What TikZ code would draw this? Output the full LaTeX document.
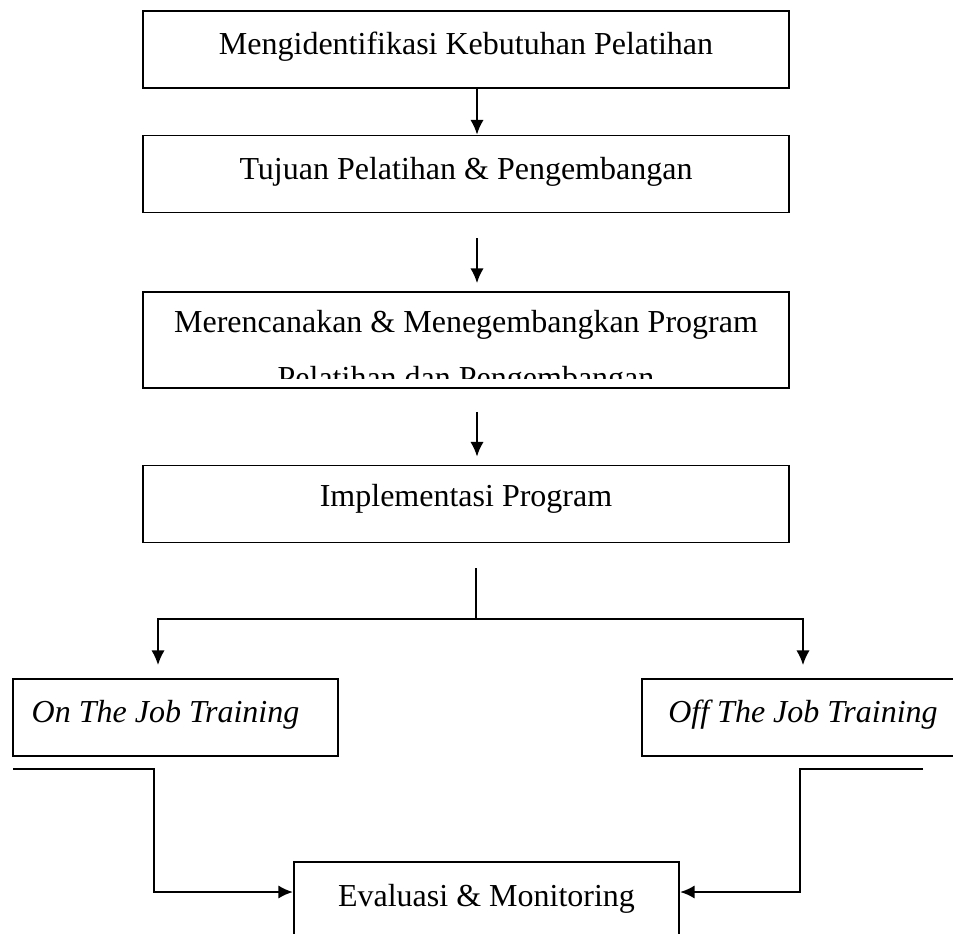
\documentclass[tikz,border=0pt]{standalone}
\usepackage{fontspec}
\setmainfont{Liberation Serif}
\usetikzlibrary{arrows.meta}
\newcommand\boxfont{\fontsize{24}{28}\selectfont}
\tikzstyle{mybox} = [rectangle, draw, line width=1.4pt, minimum height=57.75pt, text height=20pt, text depth=12pt, inner xsep=0pt, font=\boxfont]
\tikzstyle{wide} = [mybox, minimum width=484.5pt]
\tikzstyle{slanted} = [font=\boxfont\itshape]
\tikzstyle{link} = [line width=1.3pt]
\tikzstyle{heavy} = [line width=2pt]
\tikzset{>={Latex[length=11pt,width=10pt]}}
\begin{document}
\begin{tikzpicture}[x=0.75pt, y=-0.75pt]
\clip (0,0) rectangle (953,934);
\node[wide] (need) at (466, 49.5) {Mengidentifikasi Kebutuhan Pelatihan};
\node[wide] (goal) at (466, 174) {Tujuan Pelatihan \& Pengembangan};
\node[wide, minimum height=72pt, text depth=30.5pt] (plan) at (466, 340) {Merencanakan \& Menegembangkan Program};
% second line is cut off by the box
\begin{scope}
\clip (143, 292) rectangle (789, 378);
\node[anchor=base, font=\boxfont] (plantail) at (466, 388) {Pelatihan dan Pengembangan};
\end{scope}
\node[wide, text height=17pt, text depth=14pt] (impl) at (466, 504) {Implementasi Program};
\node[mybox, slanted, minimum width=243.75pt] (onjob) at (175.5, 717.5) {On The Job Training\hspace*{15pt}};
\node[mybox, slanted, minimum width=241.5pt] (offjob) at (803, 717.5) {Off The Job Training};
\node[mybox, minimum width=288.75pt, minimum height=58.5pt] (eval) at (486.5, 901) {Evaluasi \& Monitoring};
\coordinate (split) at (476, 619);
\coordinate (onin) at (158, 678);
\coordinate (onout) at (13, 769);
\coordinate (offout) at (923, 769);
\draw[->, link] ([xshift=8.25pt]need.south) -- ([xshift=8.25pt]goal.north);
\draw[->, link, shorten <=18.75pt, shorten >=6pt] ([xshift=8.25pt]goal.south) -- ([xshift=8.25pt]plan.north);
\draw[->, link, shorten <=17.25pt, shorten >=6pt] ([xshift=8.25pt]plan.south) -- ([xshift=8.25pt]impl.north);
\draw[line width=0.8pt, shorten <=18.75pt] ([xshift=7.5pt]impl.south) -- (split);
\draw[->, link, shorten >=9.75pt] (split) -| (onin);
\draw[->, link, shorten >=9.75pt] (split) -| (offjob.north);
\draw[->, heavy] (onout) -- ++(141, 0) |- ([yshift=6.75pt]eval.west);
\draw[->, heavy] (offout) -- ++(-123, 0) |- ([yshift=6.75pt]eval.east);
\end{tikzpicture}
\end{document}
